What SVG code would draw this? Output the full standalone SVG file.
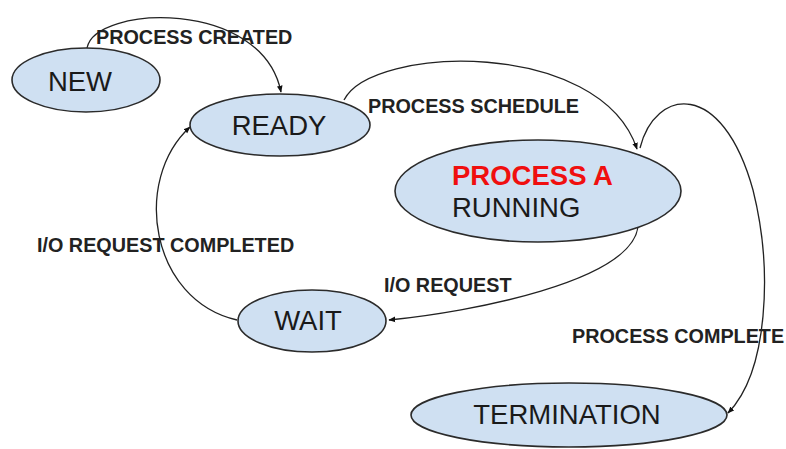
<svg xmlns="http://www.w3.org/2000/svg" width="786" height="449" viewBox="0 0 786 449">
<defs>
<style>
.node{fill:#cfe0f2;stroke:#2b2b2b;stroke-width:1.6}
.nt{font-family:"Liberation Sans",Arial,sans-serif;font-size:27.5px;fill:#1a1a1a;text-anchor:middle}
.lbl{font-family:"Liberation Sans",Arial,sans-serif;font-size:19.8px;font-weight:bold;fill:#222}
.edge{fill:none;stroke:#222;stroke-width:1.3;marker-end:url(#arr)}
</style>
<marker id="arr" viewBox="0 0 10 10" refX="9" refY="5" markerWidth="7" markerHeight="7" orient="auto" markerUnits="userSpaceOnUse">
<path d="M0,1 L10,5 L0,9 z" fill="#111"/>
</marker>
</defs>
<rect width="786" height="449" fill="#ffffff"/>
<g id="connectors">
<path class="edge" d="M87 48 C95 5, 262 -2, 281 92"/>
<path class="edge" d="M344 100 C372 45, 600 38, 637 149"/>
<path class="edge" d="M640 148 C655 88, 722 78, 753 190 C773 270, 768 372, 728 413"/>
<path class="edge" d="M638 227 C630 282, 470 312, 389 320"/>
<path class="edge" d="M237 320 C150 300, 132 180, 190 127"/>
</g>
<g id="labels">
<text class="lbl" x="96" y="44">PROCESS CREATED</text>
<text class="lbl" x="368" y="113">PROCESS SCHEDULE</text>
<text class="lbl" x="37" y="252">I/O REQUEST COMPLETED</text>
<text class="lbl" x="384" y="292">I/O REQUEST</text>
<text class="lbl" x="572" y="343">PROCESS COMPLETE</text>
</g>
<g id="node-new">
<ellipse class="node" cx="86" cy="80" rx="74" ry="32"/>
<text class="nt" x="80" y="91">NEW</text>
</g>
<g id="node-ready">
<ellipse class="node" cx="280" cy="125" rx="90" ry="31"/>
<text class="nt" x="279" y="135">READY</text>
</g>
<g id="node-running">
<ellipse class="node" cx="538" cy="191" rx="143" ry="51"/>
<text x="452" y="185" style="font-family:'Liberation Sans',Arial,sans-serif;font-size:27.5px;font-weight:bold;fill:#f00f0f">PROCESS A</text>
<text x="452" y="217" style="font-family:'Liberation Sans',Arial,sans-serif;font-size:27.5px;fill:#1a1a1a">RUNNING</text>
</g>
<g id="node-wait">
<ellipse class="node" cx="312" cy="321" rx="74" ry="31"/>
<text class="nt" x="308" y="330">WAIT</text>
</g>
<g id="node-termination">
<ellipse class="node" cx="569" cy="415" rx="158" ry="32"/>
<text class="nt" x="567" y="424">TERMINATION</text>
</g>
</svg>
